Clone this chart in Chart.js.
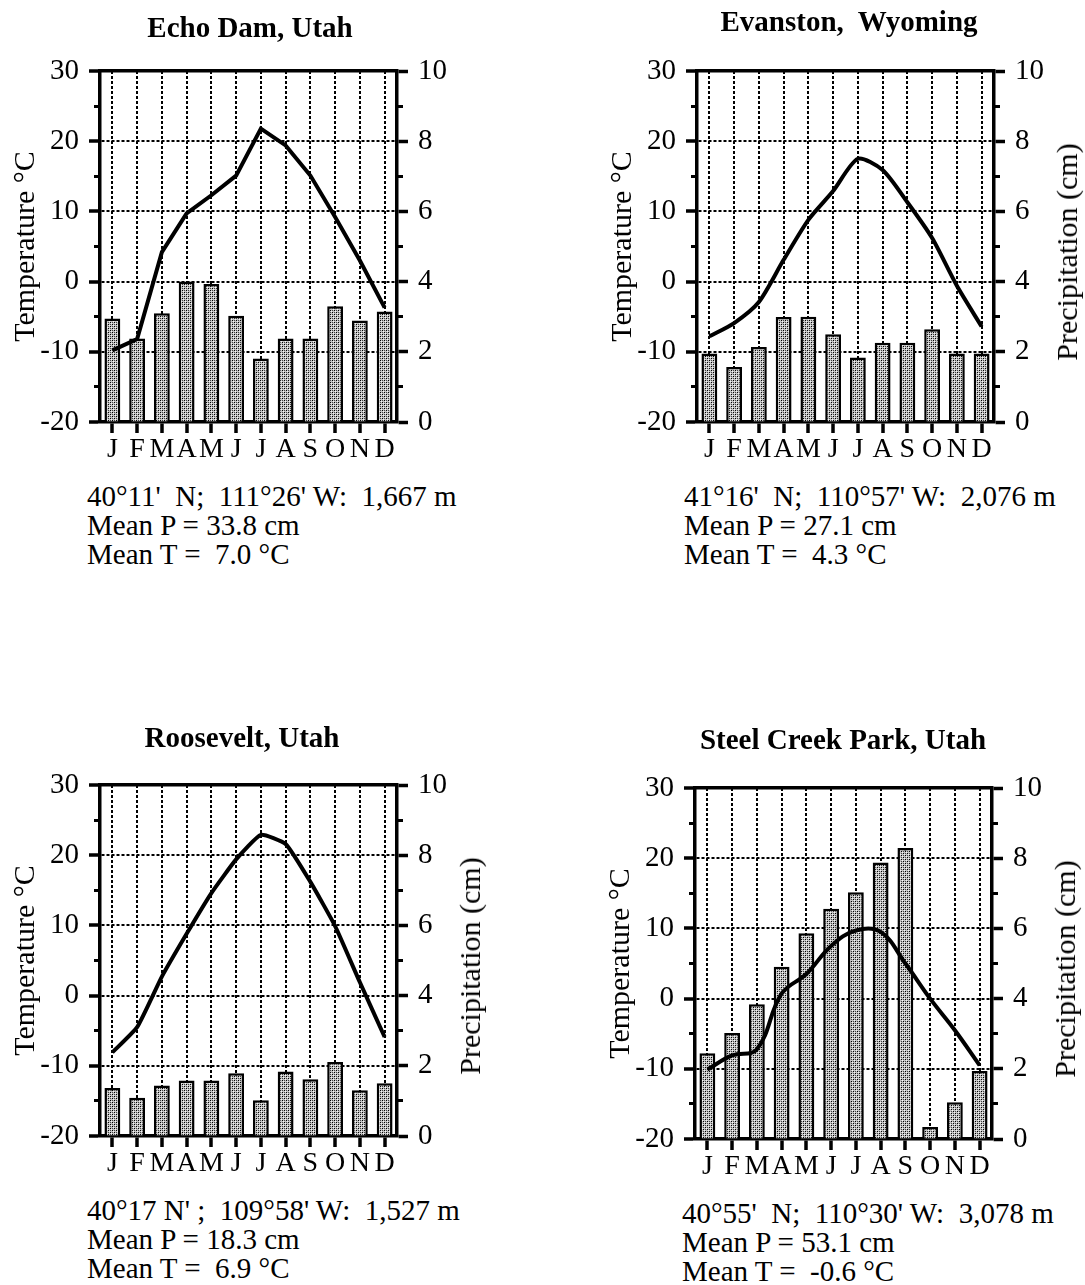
<!DOCTYPE html>
<html><head><meta charset="utf-8">
<script src="https://cdn.jsdelivr.net/npm/chart.js@4"></script>
<style>
body{margin:0;background:#fff;}
#page{position:relative;width:1085px;height:1285px;overflow:hidden;font-family:'Liberation Serif',serif;color:#000;}
.panel{position:absolute;width:488px;height:570px;}
.panel canvas{position:absolute;left:0;top:0;}
.ttl{position:absolute;font-weight:bold;font-size:29px;white-space:pre;transform:translate(-50%,-50%);line-height:1;}
.rt{position:absolute;font-size:30px;white-space:pre;transform:translate(-50%,-50%) rotate(-90deg);line-height:1;}
.foot{position:absolute;font-size:29px;white-space:pre;line-height:29px;}
</style></head>
<body><div id="page"></div>
<script>
// ---- data ----
const months = ['J','F','M','A','M','J','J','A','S','O','N','D'];
const tempTicks = [-20, -10, 0, 10, 20, 30];
const tempMinorTicks = [-15, -5, 5, 15, 25];
const precipTicks = [0, 2, 4, 6, 8, 10];
const precipMinorTicks = [1, 3, 5, 7, 9];

const echoTemp   = [-9.8, -8.2, 4.2, 9.7, 12.3, 15.1, 21.8, 19.4, 15.1, 9.2, 3.0, -3.7];
const echoPrecip = [2.95, 2.38, 3.1, 4.0, 3.93, 3.03, 1.81, 2.38, 2.38, 3.3, 2.89, 3.15];
const evanTemp   = [-7.8, -5.9, -2.9, 3.1, 8.8, 12.9, 17.5, 15.9, 11.3, 6.2, -0.6, -6.4];
const evanPrecip = [1.95, 1.57, 2.14, 2.99, 3.0, 2.5, 1.84, 2.26, 2.26, 2.64, 1.95, 1.95];
const roosTemp   = [-8.1, -4.5, 2.7, 8.8, 14.6, 19.4, 22.9, 21.6, 16.2, 9.9, 1.9, -5.9];
const roosPrecip = [1.37, 1.09, 1.44, 1.58, 1.58, 1.79, 1.02, 1.84, 1.62, 2.11, 1.30, 1.50];
const steelTemp  = [-10.1, -8.1, -7.2, 0.7, 3.5, 7.5, 9.7, 9.5, 5.0, 0.0, -4.5, -9.5];
const steelPrecip= [2.44, 3.02, 3.84, 4.91, 5.86, 6.56, 7.03, 7.88, 8.29, 0.34, 1.05, 1.94];

const stationTitles = ['Echo Dam, Utah', 'Evanston,  Wyoming', 'Roosevelt, Utah', 'Steel Creek Park, Utah'];
const stationNotes = [
  ["40°11'  N;  111°26' W:  1,667 m", 'Mean P = 33.8 cm', 'Mean T =  7.0 °C'],
  ["41°16'  N;  110°57' W:  2,076 m", 'Mean P = 27.1 cm', 'Mean T =  4.3 °C'],
  ["40°17 N' ;  109°58' W:  1,527 m", 'Mean P = 18.3 cm', 'Mean T =  6.9 °C'],
  ["40°55'  N;  110°30' W:  3,078 m", 'Mean P = 53.1 cm', 'Mean T =  -0.6 °C']
];
const leftTitle = 'Temperature °C';
const rightTitle = 'Precipitation (cm)';

// ---- layout ----
const panels = [
  {left:0,   top:0,   temp:echoTemp,  precip:echoPrecip,  rightTitle:false, tension:0,    ttl:[250,27]},
  {left:597, top:0,   temp:evanTemp,  precip:evanPrecip,  rightTitle:true,  tension:0.25, ttl:[252,21]},
  {left:0,   top:714, temp:roosTemp,  precip:roosPrecip,  rightTitle:true,  tension:0.15, ttl:[242,23]},
  {left:595, top:717, temp:steelTemp, precip:steelPrecip, rightTitle:true,  tension:0.4,  ttl:[248,22]}
];

Chart.defaults.font.family = "'Liberation Serif', serif";
Chart.defaults.color = '#000';

function makePattern(ctx){
  const c = document.createElement('canvas'); c.width = 4; c.height = 4;
  const g = c.getContext('2d');
  g.fillStyle = '#c4c4c4'; g.fillRect(0,0,4,4);
  g.fillStyle = '#000'; g.fillRect(0,0,1,1); g.fillRect(2,2,1,1);
  g.fillStyle = '#444'; g.fillRect(2,0,1,1); g.fillRect(0,2,1,1);
  g.fillStyle = '#f4f4f4'; g.fillRect(1,1,1,1); g.fillRect(3,3,1,1);
  return ctx.createPattern(c, 'repeat');
}

const W = 488, H = 480, AREA_TOP = 71, AREA_LEFT = 100, AREA_W = 297, AREA_H = 351;
const numFont = {size: 29};
const page = document.getElementById('page');

panels.forEach((p, i) => {
  const div = document.createElement('div');
  div.className = 'panel';
  div.style.left = p.left + 'px'; div.style.top = p.top + 'px';
  page.appendChild(div);
  const cv = document.createElement('canvas');
  cv.width = W; cv.height = H; cv.style.width = W + 'px'; cv.style.height = H + 'px';
  div.appendChild(cv);

  const t = document.createElement('div');
  t.className = 'ttl'; t.textContent = stationTitles[i];
  t.style.left = p.ttl[0] + 'px'; t.style.top = p.ttl[1] + 'px';
  div.appendChild(t);

  if (p.rightTitle) {
    const r = document.createElement('div');
    r.className = 'rt'; r.textContent = rightTitle;
    r.style.left = '470px'; r.style.top = '252px';
    div.appendChild(r);
  }
  const f = document.createElement('div');
  f.className = 'foot'; f.textContent = stationNotes[i].join('\n');
  f.style.left = '87px'; f.style.top = '482px';
  div.appendChild(f);

  const ctx = cv.getContext('2d');
  new Chart(ctx, {
    type: 'bar',
    data: {
      labels: months,
      datasets: [
        {type:'line', data:p.temp, yAxisID:'yT', xAxisID:'x', borderColor:'#000', borderWidth:4,
         pointRadius:0, tension:p.tension, fill:false, order:0},
        {type:'bar', data:p.precip, yAxisID:'yP', xAxisID:'x', backgroundColor:makePattern(ctx),
         borderColor:'#000', borderWidth:2.5, barPercentage:0.64, categoryPercentage:1, order:1}
      ]
    },
    options: {
      responsive:false, animation:false, devicePixelRatio:1,
      layout:{padding:{top:AREA_TOP, left:0, right:0, bottom:0}},
      plugins:{legend:{display:false}, tooltip:{enabled:false}, title:{display:false}},
      scales:{
        x:{type:'category', position:'bottom', offset:true,
           grid:{offset:false, color:'#000', lineWidth:2, tickLength:11, tickWidth:3.5, tickColor:'#000'},
           border:{display:true, width:3.5, color:'#000', dash:[3,2]},
           ticks:{font:{size:28}, color:'#000', padding:0, maxRotation:0, autoSkip:false},
           afterFit:s=>{s.height = H - AREA_TOP - AREA_H;}},
        xTop:{type:'category', position:'top', offset:true, grid:{display:false}, ticks:{display:false},
           border:{display:true, width:3.5, color:'#000'}, afterFit:s=>{s.height = 0;}},
        yT:{position:'left', min:-20, max:30, weight:1,
           afterBuildTicks:s=>{s.ticks = tempTicks.map(v=>({value:v}));},
           grid:{color:'#000', lineWidth:2, tickLength:11, tickWidth:3.5, tickColor:'#000'},
           border:{display:true, width:3.5, color:'#000', dash:[3,2]},
           ticks:{font:numFont, color:'#000', padding:10},
           title:{display:true, text:leftTitle, font:{size:30}, color:'#000', padding:{top:8, bottom:0}},
           afterFit:s=>{s.width = AREA_LEFT;}},
        yTm:{position:'left', min:-20, max:30, weight:0,
           afterBuildTicks:s=>{s.ticks = tempMinorTicks.map(v=>({value:v}));},
           grid:{drawOnChartArea:false, tickLength:6, tickWidth:3, tickColor:'#000'},
           border:{display:false}, ticks:{display:false},
           afterFit:s=>{s.width = 0;}},
        yP:{position:'right', min:0, max:10, weight:1,
           afterBuildTicks:s=>{s.ticks = precipTicks.map(v=>({value:v}));},
           grid:{drawOnChartArea:false, tickLength:11, tickWidth:3.5, tickColor:'#000'},
           border:{display:true, width:3.5, color:'#000'},
           ticks:{font:numFont, color:'#000', padding:10},
           afterFit:s=>{s.width = W - AREA_LEFT - AREA_W;}},
        yPm:{position:'right', min:0, max:10, weight:0,
           afterBuildTicks:s=>{s.ticks = precipMinorTicks.map(v=>({value:v}));},
           grid:{drawOnChartArea:false, tickLength:6, tickWidth:3, tickColor:'#000'},
           border:{display:false}, ticks:{display:false},
           afterFit:s=>{s.width = 0;}}
      }
    }
  });
});
</script>
</body></html>
